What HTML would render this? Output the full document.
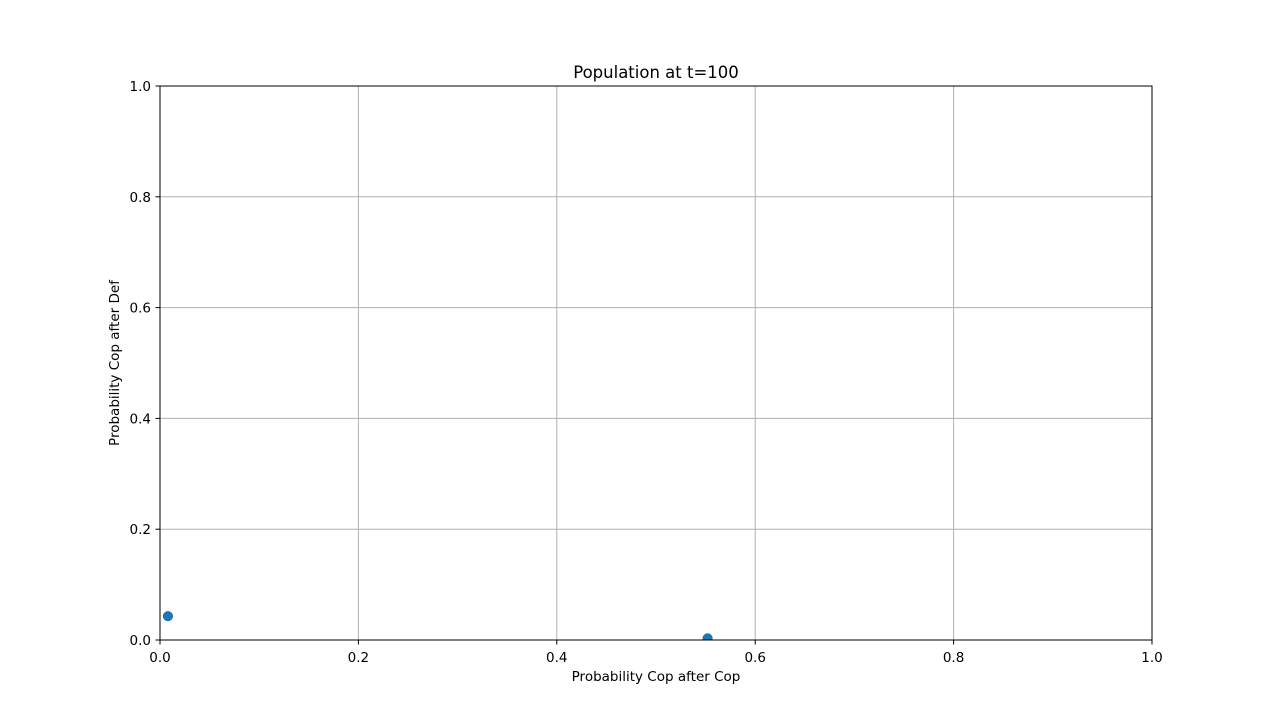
<!DOCTYPE html>
<html><head><meta charset="utf-8"><style>body{margin:0;background:#fff}svg{display:block;font-family:"DejaVu Sans","Liberation Sans",sans-serif}</style></head>
<body>
<svg id="chart" width="1280" height="719">
<defs><clipPath id="ax"><rect x="160" y="86" width="992" height="554"/></clipPath></defs>
<rect width="1280" height="719" fill="#fff"/>
<g id="grid"></g>
<g id="pts" clip-path="url(#ax)"></g>
<rect x="160" y="86" width="992" height="554" fill="none" stroke="#000" stroke-width="1"/>
<g id="ticks"></g>
<text x="656" y="78" text-anchor="middle" font-size="16.5">Population at t=100</text>
<text x="656" y="681" text-anchor="middle" font-size="13.5">Probability Cop after Cop</text>
<text transform="translate(119,363) rotate(-90)" text-anchor="middle" font-size="13.5">Probability Cop after Def</text>
</svg>
<script>
const xTicks=[0,0.2,0.4,0.6,0.8,1.0];
const yTicks=[0,0.2,0.4,0.6,0.8,1.0];
const xVals=[0.008,0.552];
const yVals=[0.043,0.003];
const NS="http://www.w3.org/2000/svg";
const sx=v=>160+v*992, sy=v=>640-v*554;
function mk(t,a,p){const e=document.createElementNS(NS,t);for(const k in a)e.setAttribute(k,a[k]);p.appendChild(e);return e;}
const g=document.getElementById('grid'),tk=document.getElementById('ticks'),pts=document.getElementById('pts');
xTicks.forEach(v=>{const x=sx(v);
 const l=mk('line',{x1:x,x2:x,y1:86,y2:640,stroke:'#b0b0b0','stroke-width':1},g);
 
 
 const t=mk('line',{x1:x,x2:x,y1:640,y2:644.5,stroke:'#000'},tk);
 
 
 const s=mk('text',{x:x,y:662,'text-anchor':'middle','font-size':13.5},tk);s.textContent=v.toFixed(1);
 
 
});
yTicks.forEach(v=>{const y=sy(v);
 const l=mk('line',{x1:160,x2:1152,y1:y,y2:y,stroke:'#b0b0b0','stroke-width':1},g);
 
 
 const t=mk('line',{x1:155.5,x2:160,y1:y,y2:y,stroke:'#000'},tk);
 
 
 const s=mk('text',{x:151,y:y+5,'text-anchor':'end','font-size':13.5},tk);s.textContent=v.toFixed(1);
 
 
});
xVals.forEach((v,i)=>{
 const c=mk('circle',{cx:sx(v),cy:sy(yVals[i]),r:4.8,fill:'#1f77b4',stroke:'#1a5f90','stroke-width':0.5},pts);
 
 
});
</script>
</body></html>
